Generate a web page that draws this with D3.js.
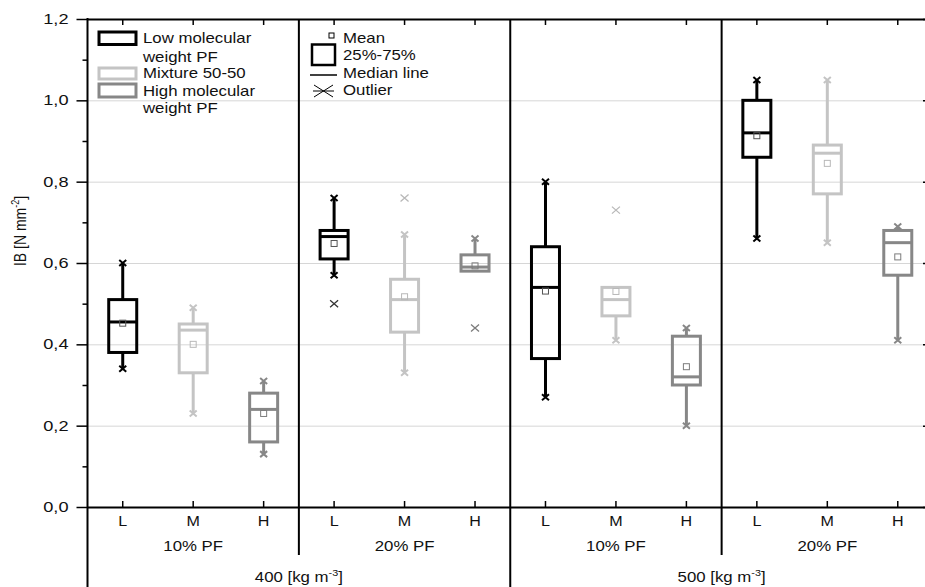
<!DOCTYPE html>
<html>
<head>
<meta charset="utf-8">
<script src="https://cdn.jsdelivr.net/npm/d3@7"></script>
<style>
  body { margin: 0; background: #fff; }
  svg { display: block; }
  text { font-family: "Liberation Sans", Arial, sans-serif; fill: #111; }
</style>
</head>
<body>
<svg id="chart" width="925" height="587"></svg>
<script>
// categories
var densities = ['400', '500'];
var pfLevels = ['10% PF', '20% PF'];
var resins = ['L', 'M', 'H'];

// box statistics, one value per box: 400/10%, 400/20%, 500/10%, 500/20% (each L, M, H)
var whiskerHigh = [0.60, 0.49, 0.31,  0.76, 0.67, 0.66,  0.80, 0.54, 0.44,  1.05, 1.05, 0.69];
var upperQuart  = [0.51, 0.45, 0.28,  0.68, 0.56, 0.62,  0.64, 0.54, 0.42,  1.00, 0.89, 0.68];
var medians     = [0.455, 0.435, 0.24, 0.665, 0.51, 0.59, 0.54, 0.51, 0.32,  0.92, 0.87, 0.65];
var lowerQuart  = [0.38, 0.33, 0.16,  0.61, 0.43, 0.58,  0.365, 0.47, 0.30, 0.86, 0.77, 0.57];
var whiskerLow  = [0.34, 0.23, 0.13,  0.57, 0.33, 0.58,  0.27, 0.41, 0.20,  0.66, 0.65, 0.41];
var means       = [0.452, 0.40, 0.23, 0.648, 0.517, 0.593, 0.531, 0.53, 0.345, 0.913, 0.845, 0.615];
var outliers    = [[], [], [],  [0.50], [0.76], [0.44],  [], [0.73], [],  [], [], []];

// axis ticks
var yTicks = [0, 0.2, 0.4, 0.6, 0.8, 1.0, 1.2];
var yMinorTicks = [0.1, 0.3, 0.5, 0.7, 0.9, 1.1];
var gridValues = [0.2, 0.4, 0.6, 0.8, 1.0];

// legend texts
var resinLegend = [['Low molecular', 'weight PF'], ['Mixture 50-50'], ['High molecular', 'weight PF']];
var symbolLegend = ['Mean', '25%-75%', 'Median line', 'Outlier'];

var colors = { L: '#000000', M: '#c4c4c4', H: '#878787' };
var meanColors = { L: '#555555', M: '#b8b8b8', H: '#7c7c7c' };
var sx = 1.2;   // the reference text is a bit wider than the font

var svg = d3.select('#chart');
var plotLeft = 87.5, plotRight = 933, plotTop = 19, plotBottom = 507;

var y = d3.scaleLinear().domain([0, 1.2]).range([plotBottom, plotTop]);

var ids = [];
densities.forEach(function(d) {
    pfLevels.forEach(function(p) {
        resins.forEach(function(r) { ids.push(d + '|' + p + '|' + r); });
    });
});
var x = d3.scaleBand().domain(ids).range([plotLeft, plotRight]);
var bw = x.bandwidth();

function addText(parent, px, py, anchor, scale) {
    /*
    Appends a text at px, py, stretched horizontally like the reference.
    */
    return parent.append('text')
        .attr('transform', 'translate(' + px + ',' + py + ') scale(' + (scale || sx) + ',1)')
        .attr('text-anchor', anchor)
        .style('font-size', '14px');
}

function stretchAxisText(g, scale) {
    /*
    Stretches the labels that a d3 axis made.
    */
    g.selectAll('text')
        .style('font-size', '14px')
        .attr('x', function() { return (+d3.select(this).attr('x') || 0) / scale; })
        .attr('transform', 'scale(' + scale + ',1)');
}

// gridlines
svg.append('g')
    .attr('transform', 'translate(' + plotLeft + ',0)')
    .call(d3.axisLeft(y).tickValues(gridValues).tickSize(-(plotRight - plotLeft)).tickFormat(''))
    .call(function(g) { g.select('.domain').remove(); })
    .selectAll('line').attr('stroke', '#d6d6d6').attr('stroke-width', 1);

// boxes
var boxes = ids.map(function(id, i) {
    return { id: id, resin: id.split('|')[2], hi: whiskerHigh[i], q3: upperQuart[i],
             med: medians[i], q1: lowerQuart[i], lo: whiskerLow[i], mean: means[i],
             out: outliers[i] };
});

var cross = 'M-3.5,-3L3.5,3M-3.5,3L3.5,-3';
var boxG = svg.append('g').selectAll('g').data(boxes).join('g')
    .attr('transform', function(d) { return 'translate(' + (x(d.id) + bw / 2) + ',0)'; });

boxG.append('line')
    .attr('y1', function(d) { return y(d.hi); })
    .attr('y2', function(d) { return y(d.q3); })
    .attr('stroke', function(d) { return colors[d.resin]; })
    .attr('stroke-width', 3);
boxG.append('line')
    .attr('y1', function(d) { return y(d.q1); })
    .attr('y2', function(d) { return y(d.lo); })
    .attr('stroke', function(d) { return colors[d.resin]; })
    .attr('stroke-width', 3);

// whisker ends
boxG.each(function(d) {
    var g = d3.select(this);
    [[d.hi, d.q3], [d.lo, d.q1]].forEach(function(p) {
        if (p[0] != p[1]) {
            g.append('path')
                .attr('d', cross)
                .attr('transform', 'translate(0,' + y(p[0]) + ')')
                .attr('fill', 'none')
                .attr('stroke', colors[d.resin])
                .attr('stroke-width', 2);
        }
    });
});

boxG.append('rect')
    .attr('x', -14)
    .attr('width', 28)
    .attr('y', function(d) { return y(d.q3); })
    .attr('height', function(d) { return y(d.q1) - y(d.q3); })
    .attr('fill', 'none')
    .attr('stroke', function(d) { return colors[d.resin]; })
    .attr('stroke-width', 3);

boxG.append('line')
    .attr('x1', -14).attr('x2', 14)
    .attr('y1', function(d) { return y(d.med); })
    .attr('y2', function(d) { return y(d.med); })
    .attr('stroke', function(d) { return colors[d.resin]; })
    .attr('stroke-width', 3);

boxG.append('rect')
    .attr('x', -3).attr('width', 6).attr('height', 6)
    .attr('y', function(d) { return y(d.mean) - 3; })
    .attr('fill', 'none')
    .attr('stroke', function(d) { return meanColors[d.resin]; })
    .attr('stroke-width', 1);

// outliers
boxG.selectAll('.outlier').data(function(d) {
        return d.out.map(function(v) { return { v: v, resin: d.resin }; });
    }).join('path')
    .attr('class', 'outlier')
    .attr('d', 'M-4,-3.5L4,3.5M-4,3.5L4,-3.5')
    .attr('transform', function(o) { return 'translate(0,' + y(o.v) + ')'; })
    .attr('fill', 'none')
    .attr('stroke', function(o) { return o.resin == 'L' ? '#333' : meanColors[o.resin]; })
    .attr('stroke-width', 1.3);

// left axis
var leftAxis = svg.append('g')
    .attr('transform', 'translate(' + plotLeft + ',0)')
    .call(d3.axisLeft(y).tickValues(yTicks).tickSize(11).tickPadding(8)
        .tickFormat(function(d) { return d.toFixed(1).replace('.', ','); }));
leftAxis.select('.domain').remove();
leftAxis.selectAll('line').attr('stroke-width', 1.5);
stretchAxisText(leftAxis, 1.3);

svg.append('g')
    .attr('transform', 'translate(' + plotLeft + ',0)')
    .call(d3.axisLeft(y).tickValues(yMinorTicks).tickSize(5).tickFormat(''))
    .call(function(g) { g.select('.domain').remove(); })
    .selectAll('line').attr('stroke-width', 1.5);

// right axis, ticks pointing inward
svg.append('g')
    .attr('transform', 'translate(' + plotRight + ',0)')
    .call(d3.axisLeft(y).tickValues(yTicks).tickSize(10).tickFormat(''))
    .call(function(g) { g.select('.domain').remove(); })
    .selectAll('line').attr('stroke-width', 1.5);

// bottom axis with the L, M, H labels
var bottomAxis = svg.append('g')
    .attr('transform', 'translate(0,' + plotBottom + ')')
    .call(d3.axisBottom(x).tickSizeInner(-6).tickSizeOuter(0).tickPadding(9)
        .tickFormat(function(d) { return d.split('|')[2]; }));
bottomAxis.select('.domain').attr('stroke-width', 2);
bottomAxis.selectAll('line').attr('stroke-width', 1.5);
stretchAxisText(bottomAxis, 1.15);

// top axis
var topAxis = svg.append('g')
    .attr('transform', 'translate(0,' + plotTop + ')')
    .call(d3.axisBottom(x).tickSizeInner(6).tickSizeOuter(0).tickFormat(''));
topAxis.select('.domain').attr('stroke-width', 2);
topAxis.selectAll('line').attr('stroke-width', 1.5);

// left axis line runs down through the label rows
svg.append('line')
    .attr('x1', plotLeft).attr('x2', plotLeft)
    .attr('y1', plotTop - 1).attr('y2', 587)
    .attr('stroke', '#000').attr('stroke-width', 2);

// group dividers
[3, 6, 9].forEach(function(i) {
    svg.append('line')
        .attr('x1', x(ids[i])).attr('x2', x(ids[i]))
        .attr('y1', plotTop).attr('y2', i == 6 ? 587 : 555)
        .attr('stroke', '#000').attr('stroke-width', 2);
});

// PF level labels
for (var g = 0; g < 4; g++) {
    var gx = (x(ids[g * 3]) + x(ids[g * 3 + 2]) + bw) / 2;
    addText(svg, gx, 551, 'middle').text(pfLevels[g % 2]);
}

// density labels
densities.forEach(function(d, k) {
    var dx = (x(ids[k * 6]) + x(ids[k * 6 + 5]) + bw) / 2;
    var t = addText(svg, dx, 582, 'middle');
    t.append('tspan').text(d + ' [kg m');
    t.append('tspan').attr('dy', -6).style('font-size', '9px').text('-3');
    t.append('tspan').attr('dy', 6).text(']');
});

// y axis title
var yt = svg.append('text')
    .attr('transform', 'translate(26,231) scale(1.15,1) rotate(-90)')
    .attr('text-anchor', 'middle')
    .style('font-size', '14px');
yt.append('tspan').text('IB [N mm');
yt.append('tspan').attr('dy', -6).style('font-size', '9px').text('-2');
yt.append('tspan').attr('dy', 6).text(']');

// legend of the resins
var legendBoxes = [[99, 32, 37, 12.5], [99, 68, 37, 11], [99, 84, 37, 13]];
var legendLines = [[43, 62], [78], [96, 113]];
resinLegend.forEach(function(lines, i) {
    var b = legendBoxes[i];
    svg.append('rect')
        .attr('x', b[0]).attr('y', b[1]).attr('width', b[2]).attr('height', b[3])
        .attr('fill', 'none')
        .attr('stroke', colors[resins[i]])
        .attr('stroke-width', 3);
    lines.forEach(function(line, j) {
        addText(svg, 143, legendLines[i][j], 'start').text(line);
    });
});

// legend of the box symbols
svg.append('rect').attr('x', 329).attr('y', 33).attr('width', 5).attr('height', 5)
    .attr('fill', 'none').attr('stroke', '#000').attr('stroke-width', 1);
svg.append('rect').attr('x', 312).attr('y', 44.5).attr('width', 23).attr('height', 20.5)
    .attr('fill', 'none').attr('stroke', '#000').attr('stroke-width', 2.5);
svg.append('line').attr('x1', 310).attr('x2', 337).attr('y1', 75).attr('y2', 75)
    .attr('stroke', '#000').attr('stroke-width', 1.5);
svg.append('path').attr('d', 'M314,85L333,97M314,97L333,85M313,91H334')
    .attr('fill', 'none').attr('stroke', '#000').attr('stroke-width', 1);
[43, 60, 78, 95].forEach(function(py, i) {
    addText(svg, 343, py, 'start').text(symbolLegend[i]);
});
</script>
</body>
</html>
